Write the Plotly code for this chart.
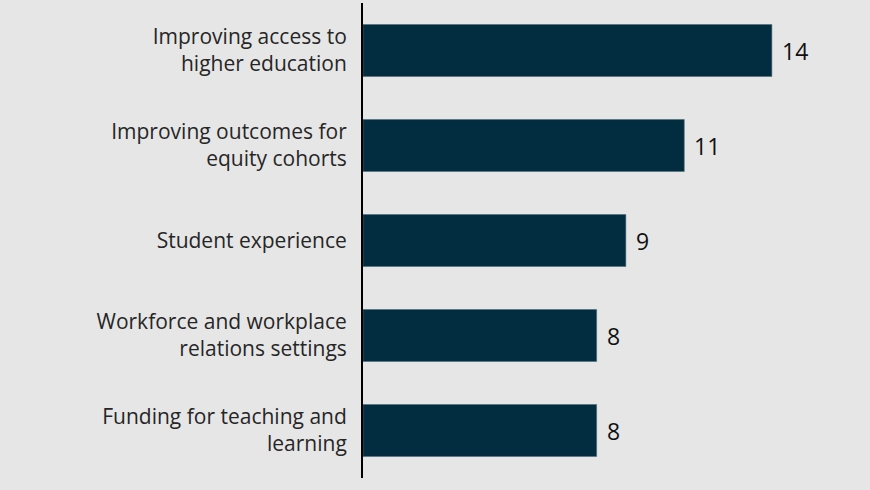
import plotly.graph_objects as go

# Policy themes and number of mentions
themes = [
    "Improving access to<br>higher education",
    "Improving outcomes for<br>equity cohorts",
    "Student experience",
    "Workforce and workplace<br>relations settings",
    "Funding for teaching and<br>learning",
]
mentions = [14, 11, 9, 8, 8]

BAR_COLOR = "#022d40"
TEXT_COLOR = "#262626"
BG = "#e6e6e6"
FONT = "Open Sans"

fig = go.Figure(
    go.Bar(
        x=mentions,
        y=themes,
        orientation="h",
        marker=dict(color=BAR_COLOR, line=dict(color="#4f6b78", width=0.6)),
        width=0.547,
        hoverinfo="skip",
    )
)

# Value labels just past the end of each bar
for t, v in zip(themes, mentions):
    fig.add_annotation(
        x=v, y=t, text=str(v), showarrow=False,
        xanchor="left", xshift=8,
        font=dict(family=FONT, size=23, color="#111111"),
    )

fig.update_layout(
    width=870,
    height=490,
    margin=dict(l=363, r=0, t=3, b=12),
    paper_bgcolor=BG,
    plot_bgcolor=BG,
    showlegend=False,
    font=dict(family=FONT, size=21, color=TEXT_COLOR),
)
fig.update_xaxes(
    range=[0, 17.36], visible=False, showgrid=False, zeroline=False,
)
fig.update_yaxes(
    autorange="reversed",
    showgrid=False,
    zeroline=False,
    showline=True,
    linecolor="#000000",
    linewidth=2,
    ticks="",
    ticklabelstandoff=10,
    tickfont=dict(family=FONT, size=21, color=TEXT_COLOR),
)

fig.write_html("out.html")
